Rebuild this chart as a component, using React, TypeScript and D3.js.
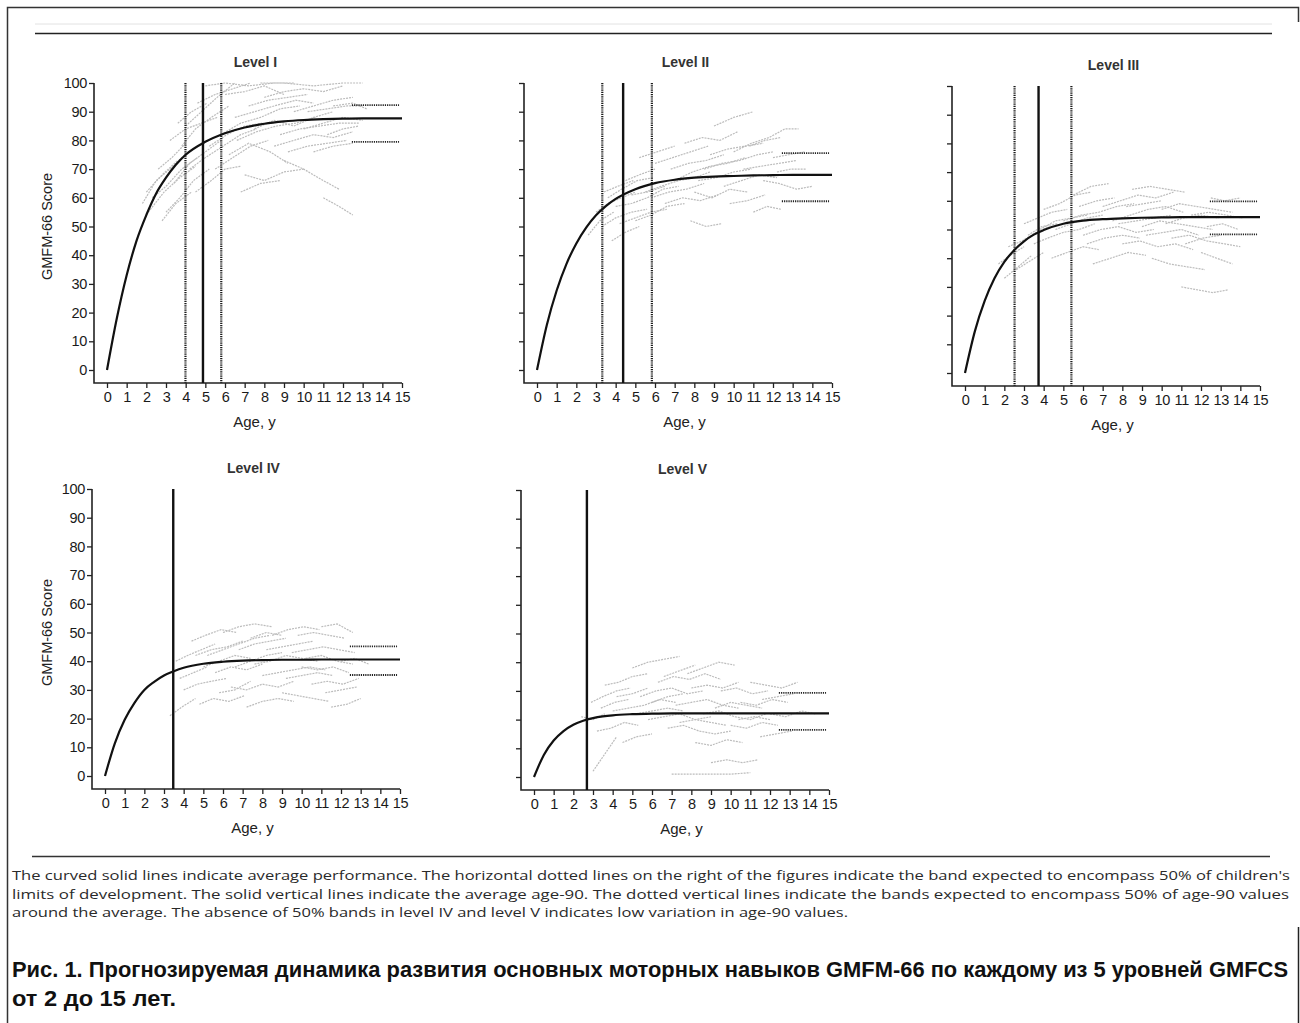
import * as React from "react";
import * as d3 from "d3";

// ages at which the average curves are read
const ages = [0, 0.5, 1, 1.5, 2, 2.5, 3, 3.5, 4, 5, 6, 7, 8, 9, 10, 11, 12, 13, 14, 15];

const meanI = [0, 18, 33, 45, 54, 61.5, 67, 71.5, 75, 79.5, 82.5, 84.5, 85.8, 86.6, 87.1, 87.4, 87.6, 87.7, 87.7, 87.7];
const meanII = [0, 15.7, 27.7, 37, 44.1, 49.6, 53.9, 57.1, 59.6, 63, 65.1, 66.3, 67, 67.4, 67.6, 67.8, 67.9, 68, 68, 68];
const meanIII = [0, 14.5, 25.1, 33, 38.7, 42.8, 45.9, 48.2, 49.8, 52, 53.1, 53.6, 53.9, 54.1, 54.2, 54.3, 54.3, 54.3, 54.3, 54.3];
const meanIV = [0, 11.4, 19.6, 25.5, 30, 32.8, 35, 36.5, 37.7, 39.1, 39.8, 40.2, 40.4, 40.5, 40.5, 40.6, 40.6, 40.6, 40.6, 40.6];
const meanV = [0, 7.7, 12.7, 16, 18.2, 19.6, 20.5, 21.1, 21.5, 21.9, 22.1, 22.2, 22.2, 22.2, 22.2, 22.2, 22.2, 22.2, 22.2, 22.2];

const levelNames = ["Level I", "Level II", "Level III", "Level IV", "Level V"];
const age90 = [4.88, 4.38, 3.74, 3.47, 2.69];
const age90Low = [3.99, 3.32, 2.52, null, null];
const age90High = [5.81, 5.84, 5.41, null, null];
const limitLow = [79.5, 58.8, 48.3, 35.2, 16.4];
const limitHigh = [92.3, 75.6, 59.8, 45.2, 29.3];

const xTicks = d3.range(0, 16);
const yTicks = [0, 10, 20, 30, 40, 50, 60, 70, 80, 90, 100];

// individual children (gray), [age, score]
const kidsI = [
  [[1.8, 58], [2.5, 66], [3.2, 70], [4.1, 76]],
  [[2.0, 62], [2.8, 68], [3.6, 73]],
  [[2.3, 60], [3.0, 64], [3.8, 70], [4.6, 74]],
  [[2.6, 70], [3.3, 74], [4.0, 79]],
  [[3.0, 55], [3.7, 60], [4.4, 66], [5.2, 70]],
  [[3.4, 65], [4.2, 72], [5.0, 76], [5.8, 80]],
  [[3.8, 78], [4.5, 84], [5.3, 88], [6.2, 92]],
  [[4.0, 85], [4.8, 90], [5.6, 95], [6.5, 100]],
  [[4.5, 62], [5.3, 66], [6.0, 70], [6.8, 71]],
  [[5.0, 99], [6.0, 100], [7.2, 99], [8.5, 100], [9.5, 100]],
  [[5.5, 70], [6.4, 74], [7.3, 78], [8.2, 80]],
  [[5.8, 82], [6.8, 86], [7.8, 88], [8.8, 91], [9.8, 92]],
  [[6.0, 96], [7.0, 97], [8.0, 99], [9.0, 96]],
  [[6.2, 75], [7.2, 79], [8.3, 76], [9.2, 72]],
  [[6.5, 88], [7.5, 90], [8.5, 92], [9.6, 94], [10.5, 93]],
  [[7.0, 68], [8.0, 66], [9.0, 69], [10.0, 70]],
  [[7.5, 84], [8.5, 87], [9.5, 85], [10.5, 88], [11.5, 90]],
  [[8.0, 95], [9.0, 97], [10.0, 98], [11.0, 97], [12.0, 99]],
  [[8.5, 78], [9.5, 80], [10.5, 82], [11.5, 81], [12.5, 83]],
  [[9.0, 73], [10.0, 70], [11.0, 66], [11.8, 63]],
  [[9.5, 90], [10.5, 92], [11.5, 94], [12.5, 95]],
  [[10.0, 84], [11.0, 86], [12.0, 88], [13.0, 87]],
  [[10.5, 76], [11.5, 78], [12.5, 79]],
  [[11.0, 60], [11.8, 57], [12.5, 54]],
  [[11.5, 92], [12.5, 93], [13.2, 91]],
  [[4.2, 70], [5.0, 74], [5.9, 78], [6.8, 82], [7.6, 84]],
  [[2.8, 52], [3.5, 58], [4.3, 62]],
  [[7.8, 100], [9.0, 100], [10.5, 99], [12.0, 100], [13.0, 100]],
  [[2.1, 55], [2.9, 62], [3.7, 67], [4.5, 71]],
  [[3.2, 80], [4.0, 84], [4.8, 86], [5.6, 88]],
  [[4.6, 93], [5.5, 96], [6.4, 98], [7.3, 100]],
  [[5.2, 78], [6.1, 82], [7.0, 85], [7.9, 86]],
  [[6.6, 80], [7.6, 83], [8.6, 85], [9.6, 86], [10.6, 88]],
  [[7.2, 92], [8.2, 94], [9.2, 95], [10.2, 96]],
  [[8.8, 82], [9.8, 84], [10.8, 85], [11.8, 86], [12.8, 86]],
  [[9.2, 76], [10.2, 78], [11.2, 79], [12.2, 80]],
  [[10.2, 90], [11.2, 91], [12.2, 92], [13.0, 92]],
  [[6.8, 62], [7.8, 65], [8.8, 66]],
  [[3.6, 86], [4.3, 90], [5.1, 93]],
  [[11.2, 82], [12.0, 84], [12.8, 85]],
];

const kidsII = [
  [[2.6, 47], [3.2, 52], [3.9, 55]],
  [[3.0, 55], [3.6, 58], [4.3, 60], [5.0, 62]],
  [[3.3, 50], [4.0, 53], [4.8, 55], [5.6, 56]],
  [[3.6, 60], [4.3, 63], [5.1, 66], [5.9, 67]],
  [[3.8, 45], [4.5, 48], [5.2, 50]],
  [[4.0, 57], [4.8, 58], [5.6, 60], [6.4, 63], [7.2, 64]],
  [[4.5, 66], [5.2, 68], [6.0, 70]],
  [[5.0, 52], [5.8, 54], [6.6, 57], [7.5, 58]],
  [[5.5, 62], [6.3, 64], [7.2, 66], [8.0, 67], [8.8, 69]],
  [[6.0, 72], [6.9, 74], [7.8, 76], [8.7, 78]],
  [[6.5, 58], [7.4, 60], [8.3, 59], [9.2, 61]],
  [[7.0, 66], [7.9, 69], [8.8, 71], [9.7, 72], [10.6, 74]],
  [[7.5, 79], [8.4, 81], [9.3, 80], [10.2, 83]],
  [[8.0, 62], [8.9, 60], [9.8, 63], [10.7, 62]],
  [[8.5, 70], [9.4, 72], [10.3, 73], [11.2, 75], [12.0, 76]],
  [[9.0, 85], [10.0, 88], [11.0, 90]],
  [[9.5, 64], [10.4, 66], [11.3, 68], [12.2, 67]],
  [[10.0, 76], [10.9, 79], [11.8, 81], [12.6, 84], [13.3, 84]],
  [[10.5, 70], [11.4, 71], [12.3, 72], [13.2, 73]],
  [[11.0, 55], [11.7, 57], [12.4, 56]],
  [[11.5, 66], [12.3, 65], [13.2, 63], [14.0, 64]],
  [[7.8, 52], [8.6, 50], [9.4, 51]],
  [[12.0, 74], [12.8, 75], [13.6, 76]],
  [[5.2, 74], [6.1, 76], [7.0, 78]],
  [[3.4, 62], [4.1, 64], [4.9, 66]],
  [[4.2, 51], [5.0, 53], [5.8, 55], [6.6, 56]],
  [[5.8, 60], [6.7, 62], [7.6, 63], [8.5, 65]],
  [[6.8, 70], [7.7, 72], [8.6, 73], [9.5, 75]],
  [[8.2, 66], [9.1, 67], [10.0, 69], [10.9, 70]],
  [[9.8, 58], [10.7, 59], [11.6, 61]],
  [[10.8, 78], [11.6, 80], [12.4, 81]],
  [[8.8, 75], [9.7, 77], [10.6, 78], [11.5, 79]],
  [[4.8, 61], [5.6, 62], [6.5, 64]],
  [[12.2, 69], [12.9, 70], [13.7, 70]],
];

const kidsIII = [
  [[1.7, 38], [2.3, 41], [3.0, 44]],
  [[2.2, 44], [2.9, 46], [3.6, 49], [4.3, 51]],
  [[2.6, 36], [3.3, 39], [4.0, 42]],
  [[3.0, 52], [3.7, 54], [4.4, 56], [5.2, 57]],
  [[3.5, 45], [4.2, 47], [5.0, 49], [5.8, 50], [6.6, 52]],
  [[4.0, 57], [4.8, 59], [5.6, 62], [6.4, 63]],
  [[4.4, 40], [5.2, 42], [6.0, 44], [6.8, 43]],
  [[5.0, 53], [5.9, 55], [6.8, 56], [7.7, 58], [8.6, 59]],
  [[5.5, 62], [6.4, 65], [7.3, 66]],
  [[6.0, 48], [6.9, 50], [7.8, 51], [8.7, 49], [9.6, 50]],
  [[6.5, 38], [7.4, 40], [8.3, 42], [9.2, 41]],
  [[7.0, 58], [7.9, 60], [8.8, 62], [9.7, 61], [10.6, 63]],
  [[7.5, 53], [8.4, 55], [9.3, 57], [10.2, 58], [11.1, 56]],
  [[8.0, 45], [8.9, 46], [9.8, 44], [10.7, 45], [11.6, 43]],
  [[8.5, 64], [9.4, 65], [10.3, 64], [11.2, 63]],
  [[9.0, 51], [9.9, 53], [10.8, 52], [11.7, 51], [12.6, 50]],
  [[9.5, 40], [10.4, 38], [11.3, 37], [12.2, 36]],
  [[10.0, 57], [10.9, 59], [11.8, 58], [12.7, 57], [13.6, 56]],
  [[10.5, 47], [11.4, 48], [12.3, 46], [13.2, 45], [14.0, 44]],
  [[11.0, 30], [11.8, 29], [12.6, 28], [13.4, 29]],
  [[11.5, 55], [12.4, 56], [13.3, 55], [14.1, 54]],
  [[12.0, 42], [12.8, 40], [13.6, 38]],
  [[3.8, 50], [4.6, 53], [5.4, 54], [6.2, 55]],
  [[12.5, 61], [13.2, 60], [14.0, 61]],
  [[2.0, 33], [2.7, 37], [3.4, 41]],
  [[3.2, 48], [3.9, 51], [4.7, 52]],
  [[4.6, 50], [5.4, 52], [6.2, 54], [7.0, 55]],
  [[5.8, 58], [6.7, 60], [7.6, 61]],
  [[6.2, 45], [7.1, 47], [8.0, 48], [8.9, 47]],
  [[7.8, 52], [8.7, 53], [9.6, 54], [10.5, 55]],
  [[9.2, 48], [10.1, 49], [11.0, 50], [11.9, 48]],
  [[10.2, 52], [11.1, 54], [12.0, 55], [12.9, 54]],
  [[11.2, 45], [12.1, 47], [13.0, 48]],
  [[12.3, 51], [13.1, 52], [13.9, 50]],
  [[8.2, 58], [9.1, 59], [10.0, 60]],
];

const kidsIV = [
  [[3.3, 21], [3.9, 24], [4.6, 27]],
  [[3.6, 40], [4.2, 42], [4.9, 44], [5.6, 46]],
  [[4.0, 30], [4.7, 32], [5.4, 33], [6.2, 34]],
  [[4.4, 47], [5.1, 49], [5.9, 51], [6.7, 50]],
  [[4.8, 25], [5.5, 27], [6.3, 26], [7.1, 28]],
  [[5.2, 42], [6.0, 44], [6.8, 46], [7.6, 48], [8.4, 49]],
  [[5.6, 36], [6.4, 38], [7.2, 37], [8.0, 39]],
  [[6.0, 50], [6.8, 52], [7.6, 53], [8.5, 52]],
  [[6.4, 31], [7.2, 30], [8.0, 32], [8.8, 31], [9.6, 33]],
  [[6.8, 44], [7.6, 46], [8.4, 47], [9.2, 48]],
  [[7.2, 24], [8.0, 26], [8.8, 27], [9.6, 26]],
  [[7.6, 39], [8.4, 40], [9.2, 42], [10.0, 41], [10.8, 40]],
  [[8.0, 35], [8.8, 36], [9.6, 37], [10.4, 38], [11.2, 37]],
  [[8.5, 49], [9.3, 51], [10.1, 52], [10.9, 51]],
  [[9.0, 29], [9.8, 28], [10.6, 27], [11.4, 26]],
  [[9.5, 43], [10.3, 44], [11.1, 45], [11.9, 44], [12.7, 43]],
  [[10.0, 38], [10.8, 37], [11.6, 38], [12.4, 36]],
  [[10.5, 32], [11.3, 33], [12.1, 32], [12.9, 34]],
  [[11.0, 52], [11.8, 53], [12.6, 50]],
  [[11.5, 24], [12.3, 25], [13.0, 27]],
  [[12.0, 40], [12.7, 41], [13.4, 39]],
  [[5.0, 38], [5.8, 40], [6.6, 42], [7.4, 41]],
  [[3.8, 34], [4.5, 36], [5.2, 38]],
  [[4.6, 42], [5.4, 44], [6.2, 45], [7.0, 47]],
  [[5.8, 29], [6.6, 30], [7.4, 33]],
  [[6.6, 38], [7.4, 40], [8.2, 42], [9.0, 43]],
  [[7.4, 48], [8.2, 50], [9.0, 49]],
  [[8.2, 44], [9.0, 45], [9.8, 46], [10.6, 47]],
  [[9.2, 34], [10.0, 35], [10.8, 36], [11.6, 35]],
  [[10.2, 41], [11.0, 42], [11.8, 40], [12.6, 39]],
  [[11.2, 29], [12.0, 30], [12.8, 31]],
  [[9.8, 49], [10.6, 50], [11.4, 49], [12.2, 48]],
];

const kidsV = [
  [[2.4, 21], [3.0, 20], [3.6, 22]],
  [[2.9, 26], [3.5, 28], [4.2, 30], [4.9, 31]],
  [[3.2, 16], [3.9, 17], [4.6, 19], [5.3, 18]],
  [[3.6, 32], [4.3, 33], [5.0, 35], [5.8, 36]],
  [[4.0, 23], [4.8, 24], [5.6, 25], [6.4, 27], [7.2, 26]],
  [[4.5, 12], [5.2, 14], [6.0, 15]],
  [[5.0, 38], [5.8, 40], [6.6, 41], [7.4, 42]],
  [[5.4, 28], [6.2, 30], [7.0, 31], [7.8, 29], [8.6, 30]],
  [[5.8, 20], [6.6, 21], [7.4, 22], [8.2, 20], [9.0, 21]],
  [[6.3, 33], [7.1, 35], [7.9, 34], [8.7, 36], [9.5, 34]],
  [[6.8, 17], [7.6, 18], [8.4, 16], [9.2, 15], [10.0, 16]],
  [[7.2, 25], [8.0, 26], [8.8, 27], [9.6, 25], [10.4, 24]],
  [[7.8, 36], [8.6, 38], [9.4, 40], [10.2, 39]],
  [[8.2, 12], [9.0, 11], [9.8, 13], [10.6, 12]],
  [[8.6, 22], [9.4, 23], [10.2, 21], [11.0, 20], [11.8, 22]],
  [[9.0, 5], [9.8, 6], [10.6, 5], [11.4, 6]],
  [[9.5, 30], [10.3, 31], [11.1, 29], [11.9, 30]],
  [[10.0, 18], [10.8, 17], [11.6, 19], [12.4, 18]],
  [[10.5, 26], [11.3, 25], [12.1, 27], [12.9, 26]],
  [[11.0, 33], [11.8, 32], [12.6, 31], [13.4, 33]],
  [[11.5, 14], [12.3, 15], [13.1, 16]],
  [[12.0, 22], [12.8, 21], [13.6, 23], [14.3, 22]],
  [[7.0, 1], [8.0, 1], [9.0, 1], [10.0, 1], [11.0, 1.5]],
  [[3.0, 2], [3.6, 8], [4.2, 14]],
  [[3.4, 24], [4.1, 26], [4.8, 27]],
  [[4.2, 28], [5.0, 29], [5.8, 31]],
  [[5.2, 22], [6.0, 23], [6.8, 24], [7.6, 23]],
  [[6.0, 26], [6.8, 28], [7.6, 29]],
  [[7.4, 19], [8.2, 20], [9.0, 19], [9.8, 18]],
  [[8.0, 31], [8.8, 32], [9.6, 31], [10.4, 33]],
  [[9.2, 24], [10.0, 26], [10.8, 25], [11.6, 24]],
  [[10.4, 20], [11.2, 21], [12.0, 20]],
  [[11.6, 27], [12.4, 28], [13.2, 29]],
  [[6.6, 35], [7.4, 37], [8.2, 39]],
];

const means = [meanI, meanII, meanIII, meanIV, meanV];
const kids = [kidsI, kidsII, kidsIII, kidsIV, kidsV];

const captionLines = [
  "The curved solid lines indicate average performance. The horizontal dotted lines on the right of the figures indicate the band expected to encompass 50% of children's",
  "limits of development. The solid vertical lines indicate the average age-90. The dotted vertical lines indicate the bands expected to encompass 50% of age-90 values",
  "around the average. The absence of 50% bands in level IV and level V indicates low variation in age-90 values.",
];
const titleLines = [
  "Рис. 1. Прогнозируемая динамика развития основных моторных навыков  GMFM-66 по каждому из 5 уровней GMFCS",
  "от 2 до 15 лет.",
];

// panel placement: left = x of age 0, top = y of score 100
const panelPos = [
  { left: 107, top: 83, yLabel: true },
  { left: 537, top: 83, yLabel: false },
  { left: 965, top: 86, yLabel: false },
  { left: 105, top: 489, yLabel: true },
  { left: 534, top: 490, yLabel: false },
];
const pw = 295;
const ph = 287;
const gap = 13;

function drawChart(svgRef) {
  const svg = d3.select(svgRef.current);
  svg.selectAll("*").remove();
  const W = 1300;
  const H = 1023;
  svg.attr("width", W).attr("height", H);

  svg.append("rect").attr("width", W).attr("height", H).attr("fill", "#fff");

  // frame
  svg.append("path")
    .attr("d", `M7.5,1023 V7.5 H1298.5 V22`)
    .attr("fill", "none").attr("stroke", "#333").attr("stroke-width", 1.5);
  svg.append("line").attr("x1", 1298.5).attr("x2", 1298.5).attr("y1", 927).attr("y2", 1023)
    .attr("stroke", "#222").attr("stroke-width", 1.5);
  // rules
  svg.append("line").attr("x1", 35).attr("x2", 1272).attr("y1", 24).attr("y2", 24)
    .attr("stroke", "#e2e2e2").attr("stroke-width", 1);
  svg.append("line").attr("x1", 35).attr("x2", 1272).attr("y1", 33.5).attr("y2", 33.5)
    .attr("stroke", "#222").attr("stroke-width", 1.6);
  svg.append("line").attr("x1", 32).attr("x2", 1270).attr("y1", 856.5).attr("y2", 856.5)
    .attr("stroke", "#333").attr("stroke-width", 1.5);

  const font = "'Liberation Sans', Arial, sans-serif";

  panelPos.forEach((p, i) => {
    const x = d3.scaleLinear().domain([0, 15]).range([p.left, p.left + pw]);
    const y = d3.scaleLinear().domain([0, 100]).range([p.top + ph, p.top]);
    const axX = p.left - gap;
    const axY = p.top + ph + gap;
    const g = svg.append("g");

    // individual trajectories
    const kidLine = d3.line().x((d) => x(d[0])).y((d) => y(d[1])).curve(d3.curveLinear);
    g.append("g")
      .selectAll("path")
      .data(kids[i])
      .enter()
      .append("path")
      .attr("d", (d) => kidLine(d))
      .attr("fill", "none")
      .attr("stroke", "#bcbcbc")
      .attr("stroke-width", 1.2)
      .attr("stroke-dasharray", "2,1");

    // axes
    const yAxis = d3.axisLeft(y).tickValues(yTicks).tickSize(5).tickSizeOuter(0).tickPadding(2)
      .tickFormat(p.yLabel ? d3.format("d") : () => "");
    const ya = g.append("g").attr("transform", `translate(${axX},0)`).call(yAxis);
    const xAxis = d3.axisBottom(x).tickValues(xTicks).tickSize(5).tickSizeOuter(0).tickPadding(4)
      .tickFormat(d3.format("d"));
    const xa = g.append("g").attr("transform", `translate(0,${axY})`).call(xAxis);
    [ya, xa].forEach((a) => {
      a.select(".domain").remove();
      a.selectAll(".tick line").attr("stroke", "#222").attr("stroke-width", 1.3);
      a.selectAll(".tick text")
        .attr("fill", "#1a1a1a")
        .style("font-family", font)
        .style("font-size", "14.5px")
        .style("letter-spacing", "-0.3px");
    });
    g.append("path")
      .attr("d", `M${axX},${y(100)} V${axY} H${x(15)}`)
      .attr("fill", "none").attr("stroke", "#222").attr("stroke-width", 1.6);

    // age-90 lines
    g.append("line")
      .attr("x1", x(age90[i])).attr("x2", x(age90[i]))
      .attr("y1", y(100)).attr("y2", axY)
      .attr("stroke", "#111").attr("stroke-width", 2.4);
    [age90Low[i], age90High[i]].forEach((v) => {
      if (v == null) return;
      g.append("line")
        .attr("x1", x(v)).attr("x2", x(v))
        .attr("y1", y(100)).attr("y2", axY)
        .attr("stroke", "#1a1a1a").attr("stroke-width", 2.2)
        .attr("stroke-dasharray", "1.2,1");
    });

    // limit bands
    [limitLow[i], limitHigh[i]].forEach((v) => {
      g.append("line")
        .attr("x1", x(12.45)).attr("x2", x(14.85))
        .attr("y1", y(v)).attr("y2", y(v))
        .attr("stroke", "#222").attr("stroke-width", 1.8)
        .attr("stroke-dasharray", "1.2,1");
    });

    // average curve
    const meanLine = d3.line().x((d) => x(d[0])).y((d) => y(d[1])).curve(d3.curveMonotoneX);
    g.append("path")
      .attr("d", meanLine(ages.map((a, k) => [a, means[i][k]])))
      .attr("fill", "none").attr("stroke", "#111").attr("stroke-width", 2.2);

    // labels
    g.append("text")
      .attr("x", x(7.55)).attr("y", p.top - 16)
      .attr("text-anchor", "middle")
      .style("font-family", font).style("font-size", "14px").style("font-weight", "bold")
      .attr("fill", "#333")
      .text(levelNames[i]);
    g.append("text")
      .attr("x", x(7.5)).attr("y", axY + 44)
      .attr("text-anchor", "middle")
      .style("font-family", font).style("font-size", "15px")
      .attr("fill", "#222")
      .text("Age, y");
    if (p.yLabel) {
      g.append("text")
        .attr("transform", `translate(52,${y(50)}) rotate(-90)`)
        .attr("text-anchor", "middle")
        .style("font-family", font).style("font-size", "14.5px")
        .attr("fill", "#222")
        .text("GMFM-66 Score");
    }
  });

  // caption
  const capY = [880, 899, 917];
  const capLen = [1278, 1277, 836];
  captionLines.forEach((t, k) => {
    svg.append("text")
      .attr("x", 12).attr("y", capY[k])
      .attr("textLength", capLen[k]).attr("lengthAdjust", "spacingAndGlyphs")
      .style("font-family", "'Open Sans', sans-serif").style("font-size", "13.5px")
      .attr("fill", "#2a2a2a")
      .text(t);
  });

  const titleY = [977, 1006];
  const titleLen = [1276, 164];
  titleLines.forEach((t, k) => {
    svg.append("text")
      .attr("x", 12).attr("y", titleY[k])
      .attr("textLength", titleLen[k]).attr("lengthAdjust", "spacingAndGlyphs")
      .style("font-family", "'Liberation Sans', Arial, sans-serif")
      .style("font-size", "22px").style("font-weight", "bold")
      .attr("fill", "#111")
      .text(t);
  });
}

const App = () => {
  const svg = React.useRef(null);
  React.useEffect(() => {
    drawChart(svg);
  }, [svg]);

  return <svg ref={svg} style={{ position: "absolute", left: 0, top: 0 }} />;
};

export default App;
